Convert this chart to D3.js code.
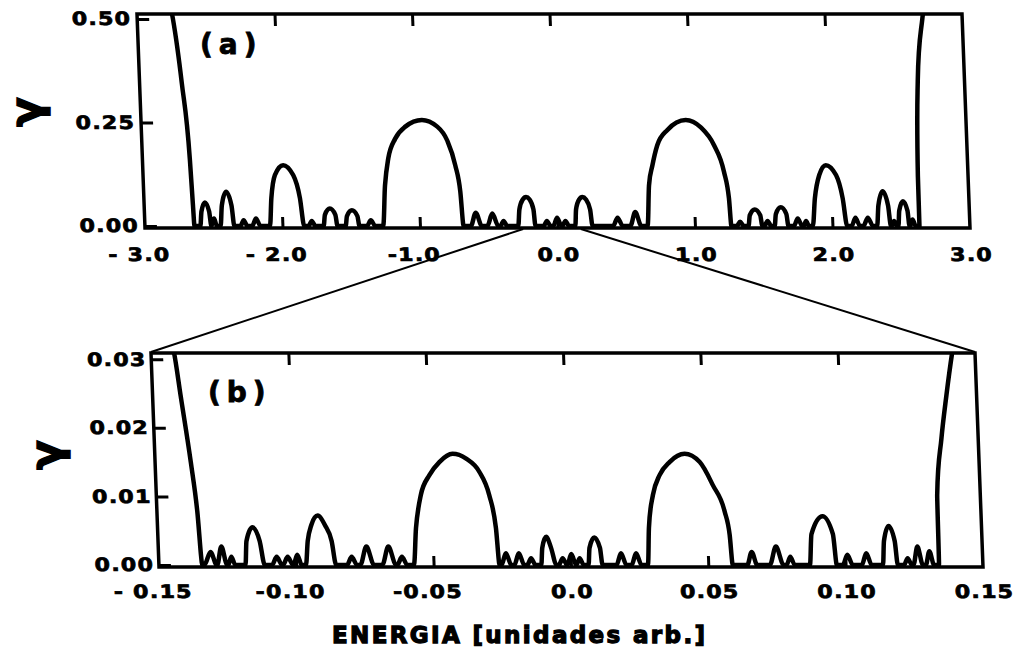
<!DOCTYPE html>
<html>
<head>
<meta charset="utf-8">
<script src="https://cdn.jsdelivr.net/npm/d3@7"></script>
<style>
  html, body { margin: 0; padding: 0; background: #fff; }
  svg { display: block; }
  text { font-family: "DejaVu Sans", sans-serif; font-weight: bold; fill: #000; }
  .tick text { font-size: 18.5px; letter-spacing: 1px; stroke: #000; stroke-width: 0.7px; }
  .tag { font-size: 28px; letter-spacing: 6px; stroke: #000; stroke-width: 0.8px; }
  .ylab { font-size: 44px; stroke: #000; stroke-width: 1.4px; }
  .xlab { font-size: 23px; stroke: #000; stroke-width: 1.3px; }
</style>
</head>
<body>
<svg id="chart" width="1014" height="659"></svg>
<script>
// ---------- panel (a): full band ----------
const fullXTicks = [-3, -2, -1, 0, 1, 2, 3];
const fullXLabels = ["- 3.0", "- 2.0", "-1.0", "0.0", "1.0", "2.0", "3.0"];
const fullYTicks = [0, 0.25, 0.5];
const fullYLabels = ["0.00", "0.25", "0.50"];

// [energy, gamma]
const gammaFull = [
  [-2.765, 0.55], [-2.74, 0.50], [-2.693, 0.345], [-2.655, 0.16], [-2.645, 0.05], [-2.64, 0],
  [-2.597, 0], [-2.585, 0.035], [-2.557, 0.057], [-2.529, 0.035], [-2.517, 0],
  [-2.495, 0.018], [-2.477, 0],
  [-2.45, 0], [-2.435, 0.05], [-2.40, 0.083], [-2.365, 0.05], [-2.35, 0],
  [-2.305, 0], [-2.28, 0.014], [-2.255, 0],
  [-2.22, 0], [-2.19, 0.018], [-2.16, 0],
  [-2.091, 0], [-2.073, 0.067], [-2.041, 0.123], [-1.978, 0.147], [-1.908, 0.123], [-1.865, 0.067], [-1.842, 0],
  [-1.81, 0], [-1.785, 0.012], [-1.76, 0],
  [-1.70, 0], [-1.688, 0.027], [-1.65, 0.042], [-1.612, 0.027], [-1.60, 0],
  [-1.54, 0], [-1.528, 0.024], [-1.49, 0.038], [-1.452, 0.024], [-1.44, 0],
  [-1.385, 0], [-1.355, 0.014], [-1.325, 0],
  [-1.268, 0], [-1.243, 0.098], [-1.212, 0.163], [-1.156, 0.211], [-1.079, 0.24], [-0.957, 0.256],
  [-0.847, 0.24], [-0.779, 0.207], [-0.726, 0.146], [-0.697, 0.083], [-0.683, 0],
  [-0.63, 0], [-0.59, 0.032], [-0.55, 0],
  [-0.51, 0], [-0.47, 0.03], [-0.43, 0],
  [-0.415, 0], [-0.39, 0.012], [-0.365, 0],
  [-0.285, 0], [-0.272, 0.04], [-0.245, 0.064], [-0.22, 0.07], [-0.195, 0.064], [-0.17, 0.04], [-0.16, 0],
  [-0.10, 0], [-0.075, 0.012], [-0.05, 0],
  [-0.03, 0], [0.0, 0.02], [0.03, 0],
  [0.035, 0], [0.06, 0.012], [0.085, 0],
  [0.13, 0], [0.14, 0.04], [0.165, 0.064], [0.19, 0.07], [0.215, 0.064], [0.242, 0.04], [0.255, 0],
  [0.405, 0], [0.44, 0.02], [0.475, 0],
  [0.53, 0], [0.57, 0.034], [0.61, 0],
  [0.655, 0], [0.677, 0.098], [0.707, 0.146], [0.748, 0.195], [0.826, 0.232], [0.962, 0.256],
  [1.07, 0.238], [1.161, 0.195], [1.226, 0.131], [1.255, 0.067], [1.265, 0],
  [1.305, 0], [1.33, 0.01], [1.355, 0],
  [1.39, 0], [1.402, 0.026], [1.44, 0.04], [1.478, 0.026], [1.49, 0],
  [1.505, 0], [1.53, 0.012], [1.555, 0],
  [1.58, 0], [1.592, 0.029], [1.63, 0.045], [1.668, 0.029], [1.68, 0],
  [1.72, 0], [1.75, 0.018], [1.78, 0],
  [1.79, 0], [1.81, 0.012], [1.83, 0],
  [1.857, 0], [1.88, 0.067], [1.918, 0.123], [1.969, 0.147], [2.04, 0.123], [2.082, 0.067], [2.107, 0],
  [2.14, 0], [2.17, 0.02], [2.20, 0],
  [2.225, 0], [2.26, 0.02], [2.295, 0],
  [2.325, 0], [2.34, 0.05], [2.375, 0.084], [2.41, 0.05], [2.425, 0],
  [2.43, 0], [2.45, 0.012], [2.47, 0],
  [2.48, 0], [2.49, 0.037], [2.52, 0.06], [2.55, 0.037], [2.56, 0],
  [2.565, 0], [2.585, 0.016], [2.605, 0],
  [2.633, 0], [2.635, 0.12], [2.66, 0.35], [2.71, 0.50], [2.735, 0.55]
];

// ---------- panel (b): centre of the band ----------
const zoomXTicks = [-0.15, -0.10, -0.05, 0, 0.05, 0.10, 0.15];
const zoomXLabels = ["- 0.15", "-0.10", "-0.05", "0.0", "0.05", "0.10", "0.15"];
const zoomYTicks = [0, 0.01, 0.02, 0.03];
const zoomYLabels = ["0.00", "0.01", "0.02", "0.03"];

const gammaZoom = [
  [-0.1435, 0.0335], [-0.1416, 0.0309], [-0.1398, 0.0247], [-0.137, 0.015], [-0.1353, 0.0078], [-0.1342, 0],
  [-0.1335, 0], [-0.131, 0.0019], [-0.129, 0],
  [-0.1288, 0], [-0.127, 0.0027], [-0.1252, 0],
  [-0.1248, 0], [-0.1235, 0.0012], [-0.1222, 0],
  [-0.1185, 0], [-0.1178, 0.0035], [-0.1154, 0.0055], [-0.113, 0.0035], [-0.1115, 0],
  [-0.1088, 0], [-0.107, 0.0012], [-0.1052, 0],
  [-0.1048, 0], [-0.103, 0.0012], [-0.1012, 0],
  [-0.101, 0], [-0.0995, 0.0015], [-0.098, 0],
  [-0.0965, 0], [-0.0955, 0.0035], [-0.094, 0.0058], [-0.0915, 0.0072], [-0.089, 0.0058], [-0.0868, 0.0035], [-0.0855, 0],
  [-0.0815, 0], [-0.0797, 0.0012], [-0.0779, 0],
  [-0.0767, 0], [-0.0742, 0.0027], [-0.0717, 0],
  [-0.0687, 0], [-0.0662, 0.0027], [-0.0637, 0],
  [-0.0632, 0], [-0.0614, 0.0012], [-0.0596, 0],
  [-0.0572, 0], [-0.0559, 0.0054], [-0.0537, 0.0102], [-0.0503, 0.0131], [-0.0465, 0.015], [-0.0416, 0.0162],
  [-0.0367, 0.0155], [-0.0321, 0.0136], [-0.0288, 0.0102], [-0.0268, 0.0054], [-0.026, 0],
  [-0.0253, 0], [-0.0235, 0.0017], [-0.0217, 0],
  [-0.0206, 0], [-0.0188, 0.0017], [-0.017, 0],
  [-0.0159, 0], [-0.0144, 0.001], [-0.0129, 0],
  [-0.0108, 0], [-0.0102, 0.0025], [-0.0086, 0.0041], [-0.007, 0.0025], [-0.0053, 0],
  [-0.0044, 0], [-0.0029, 0.001], [-0.0014, 0],
  [-0.0013, 0], [0.0003, 0.0016], [0.0019, 0],
  [0.002, 0], [0.0033, 0.001], [0.0046, 0],
  [0.0064, 0], [0.007, 0.0025], [0.0089, 0.004], [0.0108, 0.0025], [0.0115, 0],
  [0.0166, 0], [0.0184, 0.0017], [0.0202, 0],
  [0.0221, 0], [0.0239, 0.0017], [0.0257, 0],
  [0.028, 0], [0.0289, 0.0054], [0.0308, 0.0102], [0.0335, 0.0131], [0.0373, 0.015], [0.0429, 0.0162],
  [0.0483, 0.015], [0.0528, 0.0116], [0.0567, 0.0078], [0.0582, 0.0044], [0.0589, 0],
  [0.0642, 0], [0.066, 0.0019], [0.0678, 0],
  [0.0724, 0], [0.0749, 0.0027], [0.0774, 0],
  [0.0785, 0], [0.080, 0.0012], [0.0815, 0],
  [0.087, 0], [0.088, 0.0045], [0.0923, 0.0071], [0.0958, 0.0045], [0.0968, 0],
  [0.099, 0], [0.1008, 0.0015], [0.1026, 0],
  [0.1059, 0], [0.1077, 0.0017], [0.1095, 0],
  [0.1136, 0], [0.1143, 0.0035], [0.1162, 0.0057], [0.1182, 0.0035], [0.119, 0],
  [0.1213, 0], [0.1227, 0.001], [0.1241, 0],
  [0.1247, 0], [0.1264, 0.0027], [0.1281, 0],
  [0.1292, 0], [0.1307, 0.002], [0.1322, 0],
  [0.134, 0], [0.1343, 0.0102], [0.1366, 0.0184], [0.139, 0.0247], [0.1419, 0.0314], [0.1432, 0.034]
];

// energies on panel (a) where the magnifying lines start
const zoomFrom = [-0.25, 0.17];

// ---------- drawing ----------
const svg = d3.select("#chart");
svg.append("rect").attr("width", 1014).attr("height", 659).attr("fill", "#fff");

const LEAN = 8 / 214;                         // frames lean left going up
const leanDeg = Math.atan(LEAN) * 180 / Math.PI;
const WIDE = 1.2;                             // horizontal stretch of the tick lettering

function drawPanel(o) {
  const x = d3.scaleLinear().domain(o.xDomain).range(o.xRange);
  const y = d3.scaleLinear().domain(o.yDomain).range([o.frameBottom - 2, o.frameTop]);
  const [x0, x1] = o.xRange;
  const g = svg.append("g")
    .attr("transform", `translate(0,${o.frameBottom}) skewX(${leanDeg}) translate(0,${-o.frameBottom})`);

  g.append("clipPath").attr("id", "clip-" + o.id)
    .append("rect")
    .attr("x", x0).attr("y", o.frameTop)
    .attr("width", x1 - x0).attr("height", o.frameBottom - o.frameTop);

  g.append("path")
    .datum(o.data)
    .attr("clip-path", `url(#clip-${o.id})`)
    .attr("fill", "none")
    .attr("stroke", "#000")
    .attr("stroke-width", 4.5)
    .attr("stroke-linejoin", "round")
    .attr("stroke-linecap", "round")
    .attr("d", d3.line().x(d => x(d[0])).y(d => y(d[1])).curve(d3.curveMonotoneX));

  g.append("rect")
    .attr("x", x0).attr("y", o.frameTop)
    .attr("width", x1 - x0).attr("height", o.frameBottom - o.frameTop)
    .attr("fill", "none").attr("stroke", "#000").attr("stroke-width", 3.5);

  const inner = o.xTicks.slice(1, -1);
  const styleAxis = sel => {
    sel.attr("font-size", null).attr("font-family", null);
    sel.select(".domain").remove();
    sel.selectAll(".tick line").attr("stroke", "#000").attr("stroke-width", 3);
  };

  // ticks along the top edge, pointing in
  g.append("g")
    .attr("transform", `translate(0,${o.frameTop})`)
    .call(d3.axisTop(x).tickValues(inner).tickSize(-12).tickFormat(""))
    .call(styleAxis);

  // bottom edge: inward ticks and energy labels
  g.append("g")
    .attr("transform", `translate(0,${o.frameBottom})`)
    .call(d3.axisBottom(x).tickValues(inner).tickSize(-11).tickFormat(""))
    .call(styleAxis);
  g.append("g")
    .attr("transform", `translate(0,${o.frameBottom})`)
    .call(d3.axisBottom(x).tickValues(o.xTicks).tickSize(0).tickPadding(o.xPad)
      .tickFormat((d, i) => o.xLabels[i]))
    .call(styleAxis)
    .selectAll(".tick text")
    .attr("transform", `scale(${WIDE},1)`)
    .attr("dx", d => (d < 0 ? -6 : 0));

  // left edge: inward ticks and gamma labels
  g.append("g")
    .attr("transform", `translate(${x0},0)`)
    .call(d3.axisLeft(y).tickValues(o.yTicks).tickSize(-12).tickPadding(o.yPad)
      .tickFormat((d, i) => o.yLabels[i]))
    .call(styleAxis)
    .selectAll(".tick text")
    .attr("transform", `scale(${WIDE},1)`);

  return { x, y };
}

const A = drawPanel({
  id: "a", data: gammaFull,
  xDomain: [-3, 3], xRange: [145, 970],
  yDomain: [0, 0.512], frameTop: 14, frameBottom: 228,
  xTicks: fullXTicks, xLabels: fullXLabels, xPad: 20,
  yTicks: fullYTicks, yLabels: fullYLabels, yPad: 5
});

const B = drawPanel({
  id: "b", data: gammaZoom,
  xDomain: [-0.15, 0.15], xRange: [159, 983],
  yDomain: [0, 0.0309], frameTop: 353, frameBottom: 567,
  xTicks: zoomXTicks, xLabels: zoomXLabels, xPad: 18,
  yTicks: zoomYTicks, yLabels: zoomYLabels, yPad: 4
});

// magnifying lines from panel (a) to the top corners of panel (b)
const topShift = LEAN * (567 - 353);
[[zoomFrom[0], B.x.range()[0]], [zoomFrom[1], B.x.range()[1]]].forEach(([e, xb]) => {
  svg.append("line")
    .attr("x1", A.x(e)).attr("y1", 229)
    .attr("x2", xb - topShift).attr("y2", 352)
    .attr("stroke", "#000").attr("stroke-width", 2);
});

// panel tags
svg.append("text").attr("class", "tag").attr("x", 200).attr("y", 54).text("(a)");
svg.append("text").attr("class", "tag").attr("x", 208).attr("y", 402).text("(b)");

// axis titles
[[41, 112], [61, 455]].forEach(([cx, cy]) => {
  svg.append("text").attr("class", "ylab")
    .attr("text-anchor", "middle")
    .attr("transform", `translate(${cx},${cy}) rotate(-90)`)
    .text("γ");
});

svg.append("text").attr("class", "xlab")
  .attr("x", 332).attr("y", 643)
  .attr("textLength", 373).attr("lengthAdjust", "spacing")
  .text("ENERGIA [unidades arb.]");
</script>
</body>
</html>
